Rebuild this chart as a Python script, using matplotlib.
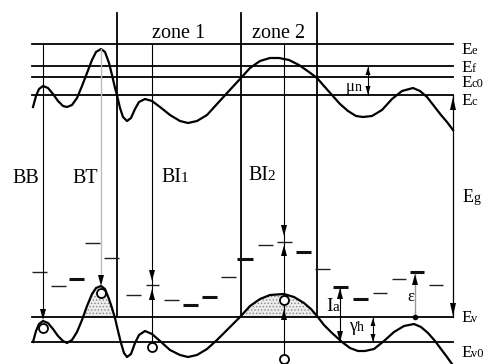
import matplotlib
matplotlib.use('Agg')
import matplotlib.pyplot as plt
import numpy as np

plt.rcParams['font.family'] = ['Liberation Serif', 'DejaVu Serif']
plt.rcParams['hatch.linewidth'] = 0.6
plt.rcParams['hatch.color'] = '#777777'

# band levels (sketch units = pixel rows)
level_subs = ['e', 'f', 'c0', 'c', 'v', 'v0']
level_y = [44, 66, 77, 95, 317, 342]
level_label_y = [54, 72, 87, 105, 322, 357]
x_left, x_right = 32, 453

# conduction band edge
cb_x = [33, 36, 39, 43, 48, 53, 58, 63, 67, 72, 77, 82, 87, 92, 96, 101, 105, 109, 112, 115,
        117, 120, 123, 127, 131, 135, 139, 145, 152, 160, 170, 180, 188, 197, 207, 217, 228, 240,
        250, 260, 270, 279, 289, 299, 309, 317, 324, 332, 340, 348, 356, 363, 372, 382, 392, 402,
        413, 420, 427, 434, 441, 447, 453]
cb_y = [107, 96, 89, 86, 88, 94, 101, 106, 107, 105, 98, 86, 73, 60, 52, 49, 52, 63, 75, 88,
        95, 108, 117, 121, 118, 109, 102, 99, 101, 107, 115, 121, 123, 121, 115, 104, 92, 79,
        68, 61, 58, 58, 60, 65, 72, 78, 86, 95, 104, 111, 116, 117, 116, 110, 99, 91,
        88, 91, 97, 106, 115, 122, 130]

# valence band edge
vb_x = [33, 36, 39, 43, 48, 53, 58, 63, 67, 72, 77, 82, 87, 92, 96, 101, 105, 109, 112, 115,
        118, 121, 124, 127, 131, 135, 139, 145, 152, 160, 170, 180, 188, 197, 207, 217, 228, 240,
        250, 260, 270, 284, 294, 304, 311, 317, 324, 332, 342, 350, 358, 365, 374, 384, 394, 404,
        414, 421, 428, 435, 441, 447, 452]
vb_y = [342, 331, 324, 321, 323, 329, 336, 341, 343, 340, 332, 320, 306, 294, 288, 286, 289, 299, 308, 318,
        331, 343, 353, 357, 354, 343, 335, 331, 334, 341, 350, 355, 357, 355, 349, 340, 329, 317,
        306, 299, 295, 294, 297, 303, 309, 316, 325, 333, 342, 348, 351, 351, 349, 341, 332, 326,
        324, 327, 333, 341, 349, 357, 364]

# zone borders
zone_x = [117, 241, 317]
zone_names = ['zone 1', 'zone 2']
zone_top = 13

# trap levels: left, right, row, thick
trap_x0 = [32, 51, 69, 85, 104, 126, 146, 164, 183, 202, 221, 237, 258, 277, 296, 315, 333, 353, 373, 392, 410, 429]
trap_x1 = [47, 66, 84, 100, 119, 141, 159, 179, 198, 217, 236, 253, 273, 292, 311, 330, 348, 368, 387, 406, 424, 443]
trap_y = [272, 286, 279, 243, 258, 295, 285, 300, 305, 297, 277, 259, 245, 242, 252, 269, 287, 299, 293, 279, 272, 285]
trap_thick = [0, 0, 1, 0, 0, 0, 0, 0, 1, 1, 0, 1, 0, 0, 1, 0, 1, 1, 0, 0, 1, 0]

# holes
hole_x = [43, 101, 152, 284, 284]
hole_y = [328, 293, 347, 300, 359]

fig = plt.figure(figsize=(4.93, 3.64), dpi=100)
ax = fig.add_axes([0, 0, 1, 1])
ax.set_xlim(0, 493)
ax.set_ylim(364, 0)
ax.axis('off')
renderer = fig.canvas.get_renderer()


def head(x, tip, up, L=11, w=3):
    base = tip + L if up else tip - L
    ax.fill([x - w, x + w, x], [base, base, tip], color='black', lw=0, zorder=5)


def sub_label(x, y, main, sub, size=12.5, subsize=9):
    t = ax.text(x, y, main, fontsize=size, va='baseline', ha='left')
    w = t.get_window_extent(renderer).width
    ax.text(x + w - 0.5, y, sub, fontsize=subsize, va='baseline', ha='left')


# horizontal levels
for s, y, ly in zip(level_subs, level_y, level_label_y):
    ax.plot([x_left, x_right], [y, y], color='black', lw=1.3)
    sub_label(461, ly, 'E', s)

# dotted hole pockets
vbx = np.array(vb_x)
vby = np.array(vb_y)
ax.fill_between(vbx, vby, level_y[4], where=vby < level_y[4], interpolate=True,
                facecolor='#ececec', hatch='.....', edgecolor='#888888', lw=0)

ax.plot(cb_x, cb_y, color='black', lw=1.6)
ax.plot(vb_x, vb_y, color='black', lw=1.6)

# zones
for zx in zone_x:
    ax.plot([zx, zx], [zone_top, level_y[4]], color='black', lw=1.3)
for i, name in enumerate(zone_names):
    ax.text((zone_x[i] + zone_x[i + 1]) / 2, 38, name, fontsize=14.5, ha='center', va='baseline')

# trap levels
for a, b, y, th in zip(trap_x0, trap_x1, trap_y, trap_thick):
    ax.plot([a, b], [y, y], color='#111111' if th else '#222222', lw=2.2 if th else 1.0,
            solid_capstyle='butt')

# transitions
ax.plot([43, 43], [44, 310], color='black', lw=0.8)
head(43, 320, False)
ax.plot([101, 101], [49, 276], color='#bbbbbb', lw=1.0)
head(101, 286, False)

ax.plot([152, 152], [44, 347], color='black', lw=0.8)
head(152, 281, False)
head(152, 289, True)

ax.plot([284, 284], [44, 359], color='black', lw=0.8)
head(284, 236, False)
head(284, 245, True)
head(284, 309, True)

# Eg
ax.plot([453, 453], [95, 317], color='black', lw=0.9)
head(453, 97, True, L=13)
head(453, 316, False, L=13)

# mu_n
ax.plot([368, 368], [67, 95], color='black', lw=0.8)
head(368, 67, True, L=8, w=2.5)
head(368, 95, False, L=9, w=2.5)
sub_label(346, 91, 'μ', 'n', size=12, subsize=10)

# I_a
ax.plot([340, 340], [287, 342], color='black', lw=0.8)
head(340, 288, True)
head(340, 342, False)
sub_label(326, 311, 'I', 'a', size=14, subsize=11)

# gamma_h
ax.plot([373, 373], [317, 342], color='black', lw=0.8)
head(373, 318, True, L=8, w=2.5)
head(373, 342, False, L=8, w=2.5)
sub_label(349, 331, 'γ', 'h', size=13, subsize=10)

# epsilon
ax.plot([415, 415], [274, 317], color='#999999', lw=1.0)
head(415, 274, True)
ax.plot(415, 317, 'o', color='black', ms=3)
ax.text(407, 301, 'ε', fontsize=12, va='baseline')

ax.plot(hole_x, hole_y, 'o', mfc='white', mec='black', ms=6.5, mew=1.3, zorder=6)

# transition labels
ax.text(12, 183, 'BB', fontsize=14.5, va='baseline')
ax.text(72, 183, 'BT', fontsize=14.5, va='baseline')
sub_label(161, 182, 'BI', '1', size=14.5, subsize=11)
sub_label(248, 180, 'BI', '2', size=14.5, subsize=11)
sub_label(463, 202, 'E', 'g', size=13, subsize=10)

fig.savefig('out.png', dpi=100)
